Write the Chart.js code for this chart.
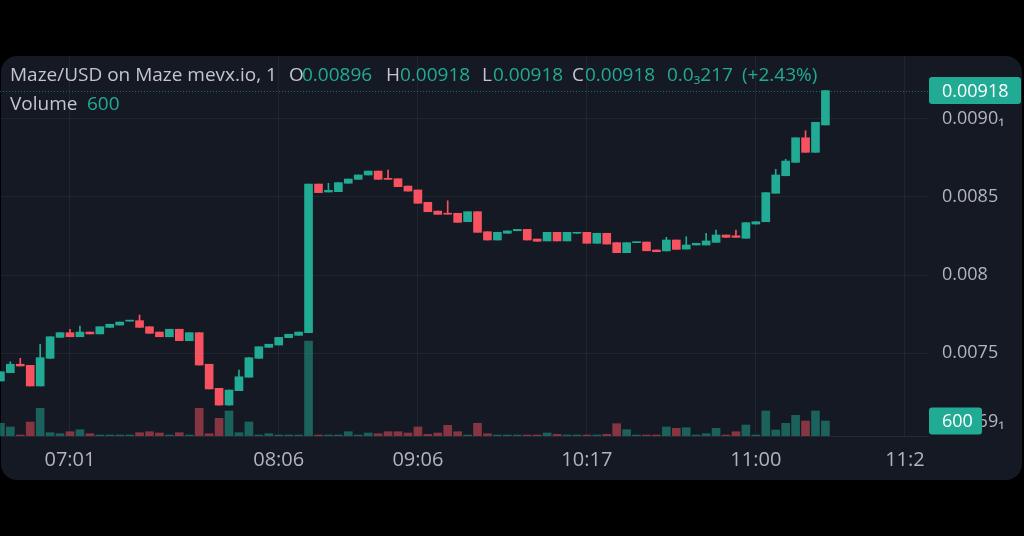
<!DOCTYPE html>
<html>
<head>
<meta charset="utf-8">
<script src="https://cdn.jsdelivr.net/npm/chart.js@4.4.1/dist/chart.umd.min.js"></script>
<style>
  html, body { margin:0; padding:0; background:#000; width:1024px; height:536px; overflow:hidden; }
  #panel { position:absolute; left:1px; top:56px; width:1021px; height:424px; background:#151924; border-radius:16px; }
  #wrap { position:absolute; left:0; top:0; width:1024px; height:536px; }
  .h { position:absolute; font-family:"Open Sans", sans-serif; font-size:19px; line-height:20px; white-space:nowrap; }
  .g { color:#c3c6ce; }
  .v { color:#22ab94; }
</style>
</head>
<body>
<div id="panel"></div>
<div id="wrap"><canvas id="c" width="1024" height="536"></canvas></div>
<div class="h g" style="left:10px;top:64px;">Maze/USD on Maze mevx.io, 1</div>
<div class="h g" style="left:289px;top:64px;">O</div><div class="h v" style="left:302px;top:64px;">0.00896</div>
<div class="h g" style="left:386px;top:64px;">H</div><div class="h v" style="left:400px;top:64px;">0.00918</div>
<div class="h g" style="left:482px;top:64px;">L</div><div class="h v" style="left:493px;top:64px;">0.00918</div>
<div class="h g" style="left:572px;top:64px;">C</div><div class="h v" style="left:585px;top:64px;">0.00918</div>
<div class="h v" style="left:667px;top:64px;">0.0₃217</div>
<div class="h v" style="left:742px;top:64px;">(+2.43%)</div>
<div class="h g" style="left:10px;top:93px;">Volume</div><div class="h v" style="left:87px;top:93px;">600</div>
<script>
const opens = [0.007322,0.007375,0.007429,0.007422,0.007290,0.007467,0.007601,0.007631,0.007605,0.007635,
0.007623,0.007665,0.007680,0.007705,0.007708,0.007669,0.007635,0.007605,0.007653,0.007580,
0.007631,0.007429,0.007275,0.007168,0.007260,0.007346,0.007467,0.007537,0.007552,0.007599,
0.007614,0.007631,0.008582,0.008531,0.008533,0.008587,0.008612,0.008640,0.008665,0.008614,
0.008616,0.008569,0.008544,0.008465,0.008409,0.008391,0.008395,0.008341,0.008405,0.008277,
0.008224,0.008267,0.008283,0.008292,0.008230,0.008218,0.008273,0.008218,0.008267,0.008273,
0.008203,0.008267,0.008207,0.008143,0.008207,0.008211,0.008160,0.008154,0.008224,0.008166,
0.008192,0.008192,0.008209,0.008256,0.008251,0.008235,0.008326,0.008341,0.008523,0.008635,
0.008721,0.008878,0.008785,0.00896];
const closes = [0.007381,0.007429,0.007418,0.007290,0.007471,0.007605,0.007631,0.007605,0.007635,0.007623,
0.007669,0.007685,0.007699,0.007707,0.007665,0.007627,0.007605,0.007653,0.007580,0.007631,
0.007424,0.007271,0.007168,0.007264,0.007349,0.007471,0.007541,0.007557,0.007601,0.007621,
0.007635,0.008582,0.008527,0.008542,0.008591,0.008614,0.008640,0.008665,0.008612,0.008612,
0.008565,0.008537,0.008459,0.008405,0.008388,0.008389,0.008337,0.008405,0.008273,0.008224,
0.008273,0.008282,0.008292,0.008224,0.008216,0.008273,0.008218,0.008273,0.008273,0.008203,
0.008267,0.008198,0.008143,0.008207,0.008211,0.008155,0.008149,0.008224,0.008164,0.008192,
0.008203,0.008218,0.008256,0.008241,0.008241,0.008335,0.008341,0.008527,0.008640,0.008729,
0.008878,0.008785,0.008977,0.00918];
const highs = [0.007381,0.007445,0.007467,0.007422,0.007557,0.007605,0.007631,0.007653,0.007674,0.007635,
0.007669,0.007685,0.007699,0.007707,0.007744,0.007669,0.007635,0.007653,0.007653,0.007631,
0.007631,0.007429,0.007275,0.007264,0.007392,0.007471,0.007541,0.007557,0.007601,0.007621,
0.007635,0.008582,0.008582,0.008587,0.008591,0.008614,0.008640,0.008665,0.008665,0.008672,
0.008616,0.008569,0.008544,0.008465,0.008409,0.008475,0.008395,0.008405,0.008405,0.008277,
0.008273,0.008282,0.008292,0.008292,0.008230,0.008273,0.008273,0.008273,0.008273,0.008273,
0.008267,0.008267,0.008207,0.008207,0.008211,0.008211,0.008160,0.008241,0.008224,0.008245,
0.008203,0.008267,0.008288,0.008256,0.008288,0.008335,0.008341,0.008527,0.008676,0.008740,
0.008878,0.008923,0.008977,0.00918];
const lows = [0.007322,0.007375,0.007418,0.007290,0.007290,0.007467,0.007601,0.007605,0.007605,0.007623,
0.007623,0.007665,0.007680,0.007705,0.007665,0.007627,0.007605,0.007605,0.007580,0.007580,
0.007424,0.007271,0.007168,0.007168,0.007260,0.007346,0.007467,0.007537,0.007552,0.007599,
0.007614,0.007631,0.008527,0.008531,0.008533,0.008587,0.008612,0.008640,0.008612,0.008612,
0.008565,0.008537,0.008459,0.008405,0.008388,0.008389,0.008337,0.008341,0.008273,0.008224,
0.008224,0.008267,0.008283,0.008224,0.008216,0.008218,0.008218,0.008218,0.008267,0.008203,
0.008203,0.008198,0.008143,0.008143,0.008207,0.008155,0.008149,0.008154,0.008164,0.008166,
0.008192,0.008192,0.008209,0.008241,0.008241,0.008235,0.008326,0.008341,0.008523,0.008635,
0.008721,0.008785,0.008785,0.00896];
const volumes = [508,360,28,560,1108,132,92,172,252,92,
40,40,40,28,132,172,120,20,132,20,
1108,92,708,1000,132,560,20,92,20,40,
20,3800,40,20,20,172,40,120,92,172,
172,120,360,68,120,428,172,20,508,92,
28,28,20,40,28,120,68,20,20,20,
20,68,492,252,20,28,28,360,308,332,
40,92,308,20,172,440,40,1000,240,508,
828,600,1000,600];
const timeTickIndex = [7, 28, 42, 59, 76, 91];
const timeTickLabels = ['07:01', '08:06', '09:06', '10:17', '11:00', '11:2'];
const priceTicks = [0.00706, 0.0075, 0.008, 0.0085, 0.009];
const priceTickLabels = ['0.0069₁', '0.0075', '0.008', '0.0085', '0.0090₁'];
const lastPriceLabel = '0.00918';
const lastVolumeLabel = '600';

const UP = '#22ab94', DOWN = '#f7525f';
const UPV = 'rgba(34,171,148,0.5)', DOWNV = 'rgba(247,82,95,0.5)';
const idx = opens.map((_, i) => i);
const isUp = i => closes[i] >= opens[i];
const candleColors = idx.map(i => isUp(i) ? UP : DOWN);
const volColors = idx.map(i => isUp(i) ? UPV : DOWNV);
const GRID = 'rgba(255,255,255,0.055)';
const TXT = '#b2b5be';

const overlay = {
  id: 'overlay',
  beforeDatasetsDraw(chart) {
    const {ctx, chartArea, scales} = chart;
    const y = Math.round(scales.y.getPixelForValue(closes[closes.length - 1])) + 0.5;
    ctx.save();
    ctx.strokeStyle = 'rgba(34,171,148,0.55)';
    ctx.setLineDash([1, 2]);
    ctx.lineWidth = 1;
    ctx.beginPath();
    ctx.moveTo(chartArea.left, y);
    ctx.lineTo(chartArea.right, y);
    ctx.stroke();
    ctx.restore();
  },
  afterDraw(chart) {
    const {ctx, scales} = chart;
    const drawBox = (yc, w, text) => {
      ctx.save();
      ctx.fillStyle = UP;
      const x0 = 929, h = 27;
      ctx.beginPath();
      ctx.roundRect(x0, yc - h / 2, w, h, 3);
      ctx.fill();
      ctx.fillStyle = '#ffffff';
      ctx.font = '18px "Open Sans", sans-serif';
      ctx.textBaseline = 'middle';
      ctx.textAlign = 'left';
      ctx.fillText(text, 942, yc + 1);
      ctx.restore();
    };
    drawBox(scales.y.getPixelForValue(closes[closes.length - 1]), 92, lastPriceLabel);
    drawBox(scales.yv.getPixelForValue(volumes[volumes.length - 1]), 53, lastVolumeLabel);
  }
};

new Chart(document.getElementById('c'), {
  type: 'bar',
  data: {
    datasets: [
      {
        label: 'Volume',
        yAxisID: 'yv',
        data: idx.map(i => ({x: i, y: volumes[i]})),
        backgroundColor: volColors,
        barThickness: 8,
        grouped: false,
        order: 3,
        minBarLength: 1
      },
      {
        label: 'Wick',
        yAxisID: 'y',
        data: idx.map(i => ({x: i, y: [lows[i], highs[i]]})),
        backgroundColor: candleColors,
        barThickness: 1,
        grouped: false,
        order: 2
      },
      {
        label: 'Body',
        yAxisID: 'y',
        data: idx.map(i => ({x: i, y: [opens[i], closes[i]]})),
        backgroundColor: candleColors,
        barThickness: 8,
        grouped: false,
        order: 1,
        minBarLength: 1
      }
    ]
  },
  options: {
    responsive: false,
    animation: false,
    events: [],
    layout: { padding: { top: 56, bottom: 56, left: 0, right: 3 } },
    plugins: { legend: { display: false }, tooltip: { enabled: false } },
    scales: {
      x: {
        type: 'linear',
        offset: false,
        min: -0.04,
        max: 93.32,
        afterBuildTicks: s => { s.ticks = timeTickIndex.map(v => ({value: v})); },
        afterFit: s => { s.height = 44; },
        grid: { color: GRID, drawTicks: false, offset: false },
        border: { display: true, color: 'rgba(255,255,255,0.07)' },
        ticks: {
          autoSkip: false, maxRotation: 0, padding: 12, color: TXT,
          font: { family: '"Open Sans", sans-serif', size: 20 },
          callback: (v, i) => timeTickLabels[i]
        }
      },
      y: {
        position: 'right',
        min: 0.00697,
        max: 0.0094012,
        afterBuildTicks: s => { s.ticks = priceTicks.map(v => ({value: v})); },
        afterFit: s => { s.width = 93; },
        grid: { color: ctx => ctx.index === 0 ? 'rgba(0,0,0,0)' : GRID, drawTicks: false },
        border: { display: false },
        ticks: {
          padding: 14, color: TXT,
          font: { family: '"Open Sans", sans-serif', size: 18 },
          callback: (v, i) => priceTickLabels[i]
        }
      },
      yv: {
        display: false,
        min: 0,
        max: 15200
      }
    }
  },
  plugins: [overlay]
});
</script>
</body>
</html>
